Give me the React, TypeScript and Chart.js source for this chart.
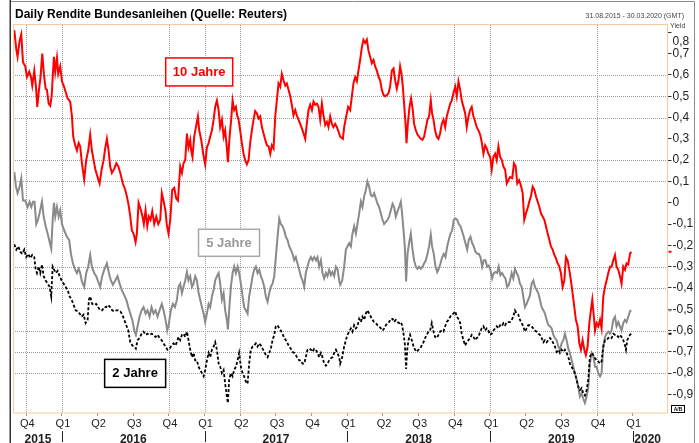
import React, { useEffect, useRef } from "react";
import { Chart, registerables } from "chart.js";

Chart.register(...registerables);

// x = decimal year, y = yield in %
const tenYear: [number, number][] = [
  [2015.666, 0.81], [2015.68, 0.72], [2015.689, 0.685], [2015.703, 0.76], [2015.715, 0.79], [2015.727, 0.66],
  [2015.743, 0.64], [2015.755, 0.59], [2015.771, 0.615], [2015.783, 0.59], [2015.792, 0.55], [2015.806, 0.62],
  [2015.818, 0.545], [2015.827, 0.45], [2015.839, 0.53], [2015.85, 0.59], [2015.862, 0.7], [2015.874, 0.6],
  [2015.886, 0.535], [2015.895, 0.53], [2015.907, 0.465], [2015.918, 0.455], [2015.928, 0.5], [2015.937, 0.61],
  [2015.944, 0.685], [2015.953, 0.615], [2015.965, 0.68], [2015.974, 0.605], [2015.988, 0.64], [2016.0, 0.57],
  [2016.012, 0.55], [2016.026, 0.52], [2016.04, 0.49], [2016.058, 0.475], [2016.07, 0.405], [2016.079, 0.31],
  [2016.093, 0.27], [2016.105, 0.245], [2016.117, 0.28], [2016.128, 0.265], [2016.14, 0.185], [2016.156, 0.11],
  [2016.17, 0.2], [2016.184, 0.245], [2016.198, 0.32], [2016.21, 0.245], [2016.222, 0.2], [2016.233, 0.16],
  [2016.25, 0.12], [2016.264, 0.09], [2016.278, 0.155], [2016.292, 0.2], [2016.303, 0.255], [2016.315, 0.3],
  [2016.327, 0.245], [2016.338, 0.17], [2016.35, 0.14], [2016.367, 0.16], [2016.381, 0.185], [2016.395, 0.17],
  [2016.409, 0.14], [2016.427, 0.09], [2016.444, 0.06], [2016.455, 0.03], [2016.467, -0.01], [2016.479, -0.065],
  [2016.49, -0.13], [2016.502, -0.145], [2016.516, -0.185], [2016.525, -0.145], [2016.537, 0.0], [2016.549, -0.025],
  [2016.563, -0.06], [2016.574, -0.1], [2016.586, -0.035], [2016.598, -0.11], [2016.609, -0.065], [2016.621, -0.08],
  [2016.633, -0.04], [2016.647, -0.1], [2016.661, -0.065], [2016.675, -0.1], [2016.689, -0.08], [2016.7, 0.045],
  [2016.712, 0.01], [2016.726, -0.04], [2016.735, -0.105], [2016.747, -0.145], [2016.759, -0.08], [2016.773, 0.06],
  [2016.787, 0.07], [2016.801, 0.02], [2016.813, 0.01], [2016.829, 0.17], [2016.841, 0.14], [2016.852, 0.185],
  [2016.864, 0.2], [2016.876, 0.325], [2016.887, 0.26], [2016.899, 0.295], [2016.906, 0.245], [2016.915, 0.215],
  [2016.927, 0.31], [2016.939, 0.355], [2016.953, 0.405], [2016.962, 0.34], [2016.976, 0.295], [2016.99, 0.23],
  [2017.004, 0.18], [2017.016, 0.26], [2017.028, 0.28], [2017.039, 0.31], [2017.051, 0.34], [2017.063, 0.39],
  [2017.074, 0.45], [2017.086, 0.48], [2017.098, 0.435], [2017.109, 0.355], [2017.121, 0.39], [2017.133, 0.31],
  [2017.144, 0.34], [2017.156, 0.255], [2017.163, 0.19], [2017.175, 0.31], [2017.186, 0.39], [2017.196, 0.48],
  [2017.207, 0.435], [2017.219, 0.45], [2017.228, 0.41], [2017.238, 0.39], [2017.249, 0.34], [2017.261, 0.28],
  [2017.273, 0.23], [2017.284, 0.2], [2017.296, 0.18], [2017.308, 0.2], [2017.319, 0.28], [2017.331, 0.34],
  [2017.343, 0.39], [2017.354, 0.43], [2017.366, 0.42], [2017.378, 0.395], [2017.39, 0.405], [2017.401, 0.355],
  [2017.413, 0.325], [2017.425, 0.295], [2017.436, 0.27], [2017.448, 0.265], [2017.46, 0.23], [2017.471, 0.27],
  [2017.483, 0.255], [2017.495, 0.405], [2017.506, 0.48], [2017.518, 0.56], [2017.53, 0.545], [2017.541, 0.605],
  [2017.553, 0.575], [2017.565, 0.55], [2017.576, 0.56], [2017.588, 0.53], [2017.6, 0.5], [2017.611, 0.46],
  [2017.623, 0.41], [2017.635, 0.435], [2017.646, 0.41], [2017.658, 0.39], [2017.67, 0.37], [2017.681, 0.35],
  [2017.693, 0.325], [2017.705, 0.3], [2017.716, 0.37], [2017.728, 0.435], [2017.74, 0.46], [2017.752, 0.435],
  [2017.763, 0.475], [2017.775, 0.46], [2017.787, 0.465], [2017.798, 0.45], [2017.81, 0.39], [2017.822, 0.465],
  [2017.833, 0.41], [2017.845, 0.365], [2017.857, 0.38], [2017.868, 0.355], [2017.88, 0.405], [2017.892, 0.37],
  [2017.903, 0.355], [2017.915, 0.37], [2017.927, 0.355], [2017.938, 0.335], [2017.95, 0.31], [2017.969, 0.3],
  [2017.978, 0.355], [2017.992, 0.405], [2018.006, 0.45], [2018.02, 0.435], [2018.032, 0.5], [2018.043, 0.56],
  [2018.055, 0.59], [2018.067, 0.57], [2018.078, 0.62], [2018.09, 0.67], [2018.102, 0.73], [2018.113, 0.765],
  [2018.125, 0.75], [2018.137, 0.765], [2018.148, 0.715], [2018.16, 0.685], [2018.172, 0.655], [2018.184, 0.67],
  [2018.195, 0.64], [2018.207, 0.62], [2018.219, 0.59], [2018.23, 0.575], [2018.242, 0.53], [2018.254, 0.505],
  [2018.265, 0.5], [2018.277, 0.505], [2018.289, 0.515], [2018.3, 0.545], [2018.312, 0.62], [2018.324, 0.63],
  [2018.335, 0.575], [2018.347, 0.535], [2018.359, 0.575], [2018.37, 0.64], [2018.38, 0.605], [2018.389, 0.545],
  [2018.398, 0.465], [2018.408, 0.37], [2018.415, 0.28], [2018.424, 0.37], [2018.436, 0.45], [2018.447, 0.49],
  [2018.459, 0.435], [2018.468, 0.37], [2018.48, 0.34], [2018.492, 0.32], [2018.503, 0.31], [2018.515, 0.3],
  [2018.527, 0.295], [2018.538, 0.31], [2018.55, 0.35], [2018.562, 0.39], [2018.573, 0.405], [2018.585, 0.48],
  [2018.594, 0.42], [2018.604, 0.39], [2018.615, 0.34], [2018.627, 0.31], [2018.639, 0.3], [2018.65, 0.325],
  [2018.662, 0.37], [2018.674, 0.39], [2018.686, 0.355], [2018.697, 0.405], [2018.709, 0.435], [2018.721, 0.465],
  [2018.732, 0.48], [2018.744, 0.515], [2018.756, 0.545], [2018.767, 0.5], [2018.779, 0.57], [2018.791, 0.53],
  [2018.802, 0.48], [2018.814, 0.45], [2018.826, 0.42], [2018.837, 0.355], [2018.849, 0.405], [2018.861, 0.435],
  [2018.872, 0.45], [2018.884, 0.405], [2018.896, 0.38], [2018.907, 0.355], [2018.919, 0.34], [2018.931, 0.32],
  [2018.942, 0.285], [2018.954, 0.23], [2018.966, 0.27], [2018.977, 0.255], [2018.989, 0.23], [2019.001, 0.215],
  [2019.012, 0.155], [2019.024, 0.215], [2019.036, 0.23], [2019.047, 0.2], [2019.059, 0.265], [2019.071, 0.215],
  [2019.083, 0.2], [2019.094, 0.17], [2019.106, 0.155], [2019.118, 0.09], [2019.14, 0.12], [2019.156, 0.115],
  [2019.168, 0.185], [2019.18, 0.17], [2019.191, 0.09], [2019.205, 0.105], [2019.217, 0.08], [2019.229, 0.045],
  [2019.24, -0.08], [2019.252, -0.05], [2019.264, -0.025], [2019.275, 0.005], [2019.287, 0.03], [2019.299, 0.075],
  [2019.311, 0.06], [2019.322, 0.03], [2019.334, 0.005], [2019.346, -0.02], [2019.357, -0.05], [2019.369, -0.065],
  [2019.381, -0.08], [2019.392, -0.11], [2019.404, -0.145], [2019.416, -0.175], [2019.427, -0.205], [2019.439, -0.22],
  [2019.451, -0.245], [2019.462, -0.26], [2019.474, -0.285], [2019.486, -0.3], [2019.497, -0.33], [2019.509, -0.395],
  [2019.521, -0.365], [2019.532, -0.255], [2019.544, -0.27], [2019.556, -0.315], [2019.567, -0.365], [2019.579, -0.425],
  [2019.591, -0.49], [2019.602, -0.55], [2019.614, -0.58], [2019.626, -0.66], [2019.637, -0.69], [2019.649, -0.645],
  [2019.661, -0.69], [2019.672, -0.715], [2019.684, -0.675], [2019.696, -0.565], [2019.707, -0.505], [2019.717, -0.455],
  [2019.726, -0.52], [2019.736, -0.6], [2019.747, -0.565], [2019.759, -0.58], [2019.771, -0.55], [2019.782, -0.59],
  [2019.794, -0.44], [2019.806, -0.395], [2019.817, -0.365], [2019.829, -0.33], [2019.841, -0.3], [2019.852, -0.3],
  [2019.864, -0.27], [2019.876, -0.245], [2019.887, -0.3], [2019.899, -0.315], [2019.911, -0.345], [2019.922, -0.38],
  [2019.934, -0.3], [2019.946, -0.315], [2019.957, -0.285], [2019.969, -0.29], [2019.981, -0.24], [2019.99, -0.23],
];

const fiveYear: [number, number][] = [
  [2015.666, 0.145], [2015.678, 0.075], [2015.689, 0.045], [2015.703, 0.075], [2015.715, 0.115], [2015.727, 0.01],
  [2015.743, 0.01], [2015.759, -0.02], [2015.773, 0.005], [2015.785, -0.02], [2015.797, 0.005], [2015.808, 0.005],
  [2015.82, -0.1], [2015.832, -0.08], [2015.843, -0.05], [2015.86, 0.005], [2015.872, -0.065], [2015.886, -0.11],
  [2015.9, -0.145], [2015.914, -0.185], [2015.925, -0.215], [2015.935, -0.08], [2015.944, 0.0], [2015.953, -0.065],
  [2015.965, -0.02], [2015.977, -0.065], [2015.988, -0.035], [2016.0, -0.1], [2016.016, -0.13], [2016.035, -0.16],
  [2016.051, -0.175], [2016.063, -0.24], [2016.077, -0.285], [2016.093, -0.315], [2016.105, -0.33], [2016.117, -0.31],
  [2016.128, -0.33], [2016.14, -0.37], [2016.156, -0.395], [2016.17, -0.33], [2016.184, -0.3], [2016.198, -0.245],
  [2016.21, -0.3], [2016.226, -0.33], [2016.24, -0.345], [2016.254, -0.37], [2016.268, -0.395], [2016.282, -0.345],
  [2016.296, -0.315], [2016.315, -0.285], [2016.329, -0.33], [2016.343, -0.365], [2016.357, -0.385], [2016.374, -0.365],
  [2016.39, -0.345], [2016.404, -0.38], [2016.42, -0.41], [2016.437, -0.435], [2016.451, -0.455], [2016.465, -0.49],
  [2016.479, -0.52], [2016.493, -0.55], [2016.507, -0.6], [2016.518, -0.62], [2016.53, -0.58], [2016.544, -0.535],
  [2016.558, -0.505], [2016.572, -0.49], [2016.586, -0.52], [2016.6, -0.505], [2016.614, -0.535], [2016.628, -0.49],
  [2016.642, -0.52], [2016.656, -0.505], [2016.67, -0.535], [2016.684, -0.505], [2016.7, -0.475], [2016.712, -0.505],
  [2016.726, -0.55], [2016.738, -0.6], [2016.75, -0.565], [2016.763, -0.505], [2016.778, -0.475], [2016.792, -0.49],
  [2016.806, -0.455], [2016.817, -0.395], [2016.829, -0.38], [2016.841, -0.425], [2016.852, -0.395], [2016.864, -0.365],
  [2016.876, -0.325], [2016.887, -0.365], [2016.899, -0.345], [2016.911, -0.395], [2016.922, -0.38], [2016.934, -0.345],
  [2016.946, -0.365], [2016.957, -0.42], [2016.969, -0.455], [2016.981, -0.49], [2016.993, -0.52], [2017.004, -0.56],
  [2017.016, -0.52], [2017.028, -0.475], [2017.039, -0.49], [2017.051, -0.44], [2017.063, -0.41], [2017.074, -0.365],
  [2017.086, -0.345], [2017.098, -0.33], [2017.109, -0.38], [2017.121, -0.455], [2017.133, -0.425], [2017.144, -0.505],
  [2017.156, -0.55], [2017.163, -0.595], [2017.172, -0.505], [2017.184, -0.395], [2017.196, -0.33], [2017.207, -0.3],
  [2017.219, -0.33], [2017.231, -0.3], [2017.242, -0.33], [2017.254, -0.38], [2017.266, -0.44], [2017.277, -0.49],
  [2017.289, -0.505], [2017.301, -0.52], [2017.312, -0.44], [2017.324, -0.395], [2017.336, -0.345], [2017.347, -0.315],
  [2017.359, -0.3], [2017.371, -0.33], [2017.383, -0.315], [2017.394, -0.345], [2017.406, -0.365], [2017.418, -0.395],
  [2017.429, -0.44], [2017.441, -0.465], [2017.453, -0.425], [2017.464, -0.395], [2017.476, -0.38], [2017.488, -0.345],
  [2017.499, -0.255], [2017.511, -0.16], [2017.523, -0.075], [2017.534, -0.1], [2017.546, -0.11], [2017.558, -0.13],
  [2017.569, -0.16], [2017.581, -0.175], [2017.593, -0.205], [2017.604, -0.22], [2017.616, -0.24], [2017.628, -0.27],
  [2017.639, -0.255], [2017.651, -0.285], [2017.663, -0.315], [2017.674, -0.345], [2017.686, -0.365], [2017.698, -0.395],
  [2017.709, -0.33], [2017.721, -0.3], [2017.733, -0.27], [2017.745, -0.255], [2017.756, -0.27], [2017.768, -0.255],
  [2017.78, -0.27], [2017.791, -0.255], [2017.803, -0.3], [2017.815, -0.27], [2017.826, -0.33], [2017.838, -0.355],
  [2017.85, -0.33], [2017.861, -0.345], [2017.873, -0.315], [2017.885, -0.34], [2017.896, -0.325], [2017.908, -0.345],
  [2017.92, -0.3], [2017.931, -0.31], [2017.943, -0.365], [2017.95, -0.385], [2017.964, -0.365], [2017.978, -0.3],
  [2017.99, -0.22], [2018.001, -0.205], [2018.013, -0.19], [2018.025, -0.205], [2018.036, -0.145], [2018.048, -0.11],
  [2018.06, -0.145], [2018.071, -0.1], [2018.083, -0.05], [2018.095, 0.005], [2018.106, -0.02], [2018.118, 0.03],
  [2018.13, 0.06], [2018.141, 0.1], [2018.153, 0.075], [2018.165, 0.035], [2018.177, 0.03], [2018.188, 0.045],
  [2018.2, 0.02], [2018.212, -0.005], [2018.223, -0.02], [2018.235, -0.05], [2018.247, -0.08], [2018.258, -0.1],
  [2018.27, -0.09], [2018.282, -0.08], [2018.293, -0.065], [2018.305, -0.035], [2018.317, -0.005], [2018.328, -0.02],
  [2018.34, -0.065], [2018.352, -0.04], [2018.363, -0.02], [2018.375, 0.005], [2018.384, -0.05], [2018.394, -0.13],
  [2018.403, -0.205], [2018.412, -0.37], [2018.422, -0.24], [2018.433, -0.19], [2018.445, -0.145], [2018.457, -0.22],
  [2018.468, -0.27], [2018.48, -0.3], [2018.492, -0.31], [2018.503, -0.3], [2018.515, -0.31], [2018.527, -0.3],
  [2018.538, -0.285], [2018.55, -0.27], [2018.562, -0.24], [2018.573, -0.205], [2018.585, -0.15], [2018.594, -0.205],
  [2018.606, -0.24], [2018.618, -0.3], [2018.63, -0.325], [2018.641, -0.31], [2018.653, -0.285], [2018.665, -0.255],
  [2018.676, -0.24], [2018.688, -0.255], [2018.7, -0.205], [2018.711, -0.175], [2018.723, -0.145], [2018.735, -0.13],
  [2018.746, -0.08], [2018.758, -0.075], [2018.77, -0.08], [2018.781, -0.1], [2018.793, -0.11], [2018.805, -0.135],
  [2018.816, -0.16], [2018.828, -0.19], [2018.84, -0.22], [2018.851, -0.175], [2018.863, -0.16], [2018.875, -0.19],
  [2018.886, -0.205], [2018.898, -0.23], [2018.91, -0.24], [2018.921, -0.24], [2018.933, -0.255], [2018.945, -0.3],
  [2018.956, -0.27], [2018.968, -0.27], [2018.98, -0.3], [2018.991, -0.295], [2019.003, -0.315], [2019.015, -0.355],
  [2019.026, -0.33], [2019.038, -0.325], [2019.05, -0.33], [2019.061, -0.3], [2019.073, -0.34], [2019.085, -0.33],
  [2019.097, -0.345], [2019.108, -0.355], [2019.12, -0.395], [2019.132, -0.385], [2019.14, -0.365], [2019.152, -0.33],
  [2019.163, -0.355], [2019.175, -0.31], [2019.187, -0.33], [2019.198, -0.345], [2019.21, -0.38], [2019.222, -0.395],
  [2019.233, -0.44], [2019.245, -0.49], [2019.257, -0.475], [2019.268, -0.455], [2019.28, -0.435], [2019.292, -0.38],
  [2019.304, -0.365], [2019.315, -0.395], [2019.327, -0.41], [2019.339, -0.425], [2019.35, -0.455], [2019.362, -0.49],
  [2019.374, -0.505], [2019.385, -0.52], [2019.397, -0.55], [2019.409, -0.575], [2019.42, -0.58], [2019.432, -0.59],
  [2019.444, -0.62], [2019.455, -0.635], [2019.467, -0.645], [2019.479, -0.675], [2019.49, -0.69], [2019.502, -0.66],
  [2019.514, -0.645], [2019.525, -0.615], [2019.537, -0.645], [2019.549, -0.685], [2019.56, -0.705], [2019.572, -0.74],
  [2019.584, -0.77], [2019.595, -0.8], [2019.607, -0.83], [2019.619, -0.865], [2019.63, -0.91], [2019.642, -0.895],
  [2019.654, -0.92], [2019.665, -0.94], [2019.677, -0.91], [2019.689, -0.865], [2019.7, -0.755], [2019.712, -0.705],
  [2019.724, -0.72], [2019.736, -0.77], [2019.747, -0.77], [2019.759, -0.8], [2019.771, -0.815], [2019.782, -0.8],
  [2019.794, -0.675], [2019.806, -0.63], [2019.817, -0.615], [2019.829, -0.605], [2019.841, -0.615], [2019.852, -0.6],
  [2019.864, -0.55], [2019.876, -0.535], [2019.887, -0.58], [2019.899, -0.56], [2019.911, -0.58], [2019.922, -0.6],
  [2019.934, -0.565], [2019.946, -0.55], [2019.957, -0.56], [2019.969, -0.535], [2019.981, -0.51], [2019.99, -0.505],
];

const twoYear: [number, number][] = [
  [2015.666, -0.195], [2015.68, -0.22], [2015.694, -0.205], [2015.708, -0.23], [2015.722, -0.24], [2015.736, -0.22],
  [2015.75, -0.255], [2015.764, -0.24], [2015.778, -0.26], [2015.792, -0.245], [2015.806, -0.255], [2015.815, -0.31],
  [2015.825, -0.33], [2015.837, -0.3], [2015.848, -0.33], [2015.86, -0.29], [2015.872, -0.345], [2015.886, -0.365],
  [2015.9, -0.38], [2015.914, -0.395], [2015.925, -0.44], [2015.935, -0.3], [2015.946, -0.315], [2015.958, -0.33],
  [2015.97, -0.32], [2015.984, -0.345], [2015.998, -0.365], [2016.012, -0.38], [2016.026, -0.395], [2016.04, -0.41],
  [2016.054, -0.44], [2016.068, -0.455], [2016.082, -0.48], [2016.096, -0.505], [2016.11, -0.51], [2016.124, -0.52],
  [2016.138, -0.535], [2016.152, -0.525], [2016.166, -0.565], [2016.18, -0.55], [2016.189, -0.455], [2016.198, -0.44],
  [2016.212, -0.475], [2016.226, -0.48], [2016.24, -0.475], [2016.254, -0.49], [2016.268, -0.505], [2016.282, -0.505],
  [2016.296, -0.49], [2016.31, -0.49], [2016.324, -0.48], [2016.338, -0.49], [2016.352, -0.505], [2016.367, -0.51],
  [2016.381, -0.505], [2016.395, -0.505], [2016.409, -0.51], [2016.423, -0.525], [2016.437, -0.55], [2016.451, -0.575],
  [2016.465, -0.6], [2016.479, -0.655], [2016.493, -0.67], [2016.507, -0.675], [2016.518, -0.685], [2016.53, -0.645],
  [2016.544, -0.635], [2016.558, -0.615], [2016.572, -0.605], [2016.586, -0.62], [2016.6, -0.615], [2016.614, -0.62],
  [2016.628, -0.615], [2016.642, -0.62], [2016.656, -0.63], [2016.67, -0.62], [2016.684, -0.635], [2016.698, -0.645],
  [2016.712, -0.66], [2016.726, -0.675], [2016.74, -0.69], [2016.754, -0.685], [2016.768, -0.67], [2016.782, -0.66],
  [2016.796, -0.67], [2016.81, -0.645], [2016.817, -0.63], [2016.829, -0.645], [2016.841, -0.62], [2016.852, -0.615],
  [2016.864, -0.63], [2016.876, -0.605], [2016.887, -0.645], [2016.899, -0.69], [2016.911, -0.725], [2016.922, -0.705],
  [2016.934, -0.74], [2016.946, -0.74], [2016.957, -0.77], [2016.969, -0.785], [2016.981, -0.8], [2016.993, -0.815],
  [2017.004, -0.785], [2017.016, -0.74], [2017.028, -0.705], [2017.039, -0.725], [2017.051, -0.69], [2017.063, -0.675],
  [2017.074, -0.655], [2017.086, -0.69], [2017.098, -0.755], [2017.109, -0.77], [2017.121, -0.8], [2017.133, -0.785],
  [2017.144, -0.85], [2017.156, -0.91], [2017.163, -0.94], [2017.172, -0.83], [2017.184, -0.8], [2017.196, -0.815],
  [2017.207, -0.785], [2017.219, -0.77], [2017.231, -0.74], [2017.242, -0.705], [2017.254, -0.77], [2017.266, -0.8],
  [2017.277, -0.815], [2017.289, -0.84], [2017.301, -0.85], [2017.312, -0.755], [2017.324, -0.69], [2017.336, -0.675],
  [2017.347, -0.67], [2017.359, -0.66], [2017.371, -0.675], [2017.383, -0.66], [2017.394, -0.67], [2017.406, -0.685],
  [2017.418, -0.7], [2017.429, -0.715], [2017.441, -0.725], [2017.453, -0.705], [2017.464, -0.685], [2017.476, -0.645],
  [2017.488, -0.62], [2017.499, -0.58], [2017.511, -0.575], [2017.523, -0.59], [2017.534, -0.6], [2017.546, -0.615],
  [2017.558, -0.635], [2017.569, -0.645], [2017.581, -0.66], [2017.593, -0.675], [2017.604, -0.685], [2017.616, -0.7],
  [2017.628, -0.705], [2017.639, -0.715], [2017.651, -0.73], [2017.663, -0.74], [2017.674, -0.74], [2017.686, -0.755],
  [2017.698, -0.755], [2017.709, -0.725], [2017.721, -0.69], [2017.733, -0.685], [2017.745, -0.69], [2017.756, -0.7],
  [2017.768, -0.685], [2017.78, -0.69], [2017.791, -0.705], [2017.803, -0.725], [2017.815, -0.705], [2017.826, -0.725],
  [2017.838, -0.755], [2017.85, -0.765], [2017.861, -0.755], [2017.873, -0.74], [2017.885, -0.73], [2017.896, -0.725],
  [2017.908, -0.705], [2017.92, -0.69], [2017.931, -0.705], [2017.943, -0.725], [2017.95, -0.755], [2017.964, -0.725],
  [2017.978, -0.675], [2017.99, -0.645], [2018.001, -0.62], [2018.013, -0.605], [2018.025, -0.59], [2018.036, -0.605],
  [2018.048, -0.575], [2018.06, -0.59], [2018.071, -0.58], [2018.083, -0.545], [2018.095, -0.56], [2018.106, -0.535],
  [2018.118, -0.55], [2018.13, -0.52], [2018.141, -0.505], [2018.153, -0.52], [2018.165, -0.535], [2018.177, -0.55],
  [2018.188, -0.56], [2018.2, -0.565], [2018.212, -0.575], [2018.223, -0.58], [2018.235, -0.59], [2018.247, -0.6],
  [2018.258, -0.59], [2018.27, -0.575], [2018.282, -0.565], [2018.293, -0.56], [2018.305, -0.545], [2018.317, -0.545],
  [2018.328, -0.56], [2018.34, -0.55], [2018.352, -0.56], [2018.363, -0.565], [2018.375, -0.56], [2018.384, -0.575],
  [2018.394, -0.615], [2018.403, -0.66], [2018.412, -0.78], [2018.42, -0.69], [2018.429, -0.645], [2018.44, -0.62],
  [2018.452, -0.645], [2018.464, -0.675], [2018.475, -0.69], [2018.487, -0.7], [2018.499, -0.69], [2018.51, -0.685],
  [2018.522, -0.67], [2018.534, -0.655], [2018.545, -0.635], [2018.557, -0.62], [2018.569, -0.605], [2018.58, -0.6],
  [2018.592, -0.565], [2018.604, -0.605], [2018.615, -0.63], [2018.627, -0.635], [2018.639, -0.62], [2018.65, -0.605],
  [2018.662, -0.6], [2018.674, -0.605], [2018.686, -0.58], [2018.697, -0.56], [2018.709, -0.55], [2018.721, -0.535],
  [2018.732, -0.525], [2018.744, -0.52], [2018.756, -0.51], [2018.767, -0.535], [2018.779, -0.545], [2018.791, -0.565],
  [2018.802, -0.615], [2018.814, -0.645], [2018.826, -0.67], [2018.837, -0.655], [2018.849, -0.645], [2018.861, -0.635],
  [2018.872, -0.62], [2018.884, -0.63], [2018.896, -0.645], [2018.907, -0.635], [2018.919, -0.63], [2018.931, -0.605],
  [2018.942, -0.59], [2018.954, -0.58], [2018.966, -0.6], [2018.977, -0.59], [2018.989, -0.6], [2019.001, -0.62],
  [2019.012, -0.615], [2019.024, -0.6], [2019.036, -0.59], [2019.047, -0.58], [2019.059, -0.59], [2019.071, -0.575],
  [2019.083, -0.58], [2019.094, -0.565], [2019.106, -0.575], [2019.118, -0.56], [2019.132, -0.56], [2019.14, -0.56],
  [2019.152, -0.55], [2019.163, -0.535], [2019.175, -0.505], [2019.187, -0.52], [2019.198, -0.525], [2019.21, -0.55],
  [2019.222, -0.565], [2019.233, -0.58], [2019.245, -0.605], [2019.257, -0.59], [2019.268, -0.575], [2019.28, -0.575],
  [2019.292, -0.58], [2019.304, -0.59], [2019.315, -0.6], [2019.327, -0.605], [2019.339, -0.615], [2019.35, -0.62],
  [2019.362, -0.635], [2019.374, -0.655], [2019.385, -0.645], [2019.397, -0.655], [2019.409, -0.645], [2019.42, -0.635],
  [2019.432, -0.645], [2019.444, -0.66], [2019.455, -0.675], [2019.467, -0.7], [2019.479, -0.69], [2019.49, -0.705],
  [2019.502, -0.69], [2019.514, -0.7], [2019.525, -0.69], [2019.537, -0.705], [2019.549, -0.725], [2019.56, -0.755],
  [2019.572, -0.77], [2019.584, -0.785], [2019.595, -0.8], [2019.607, -0.83], [2019.619, -0.865], [2019.63, -0.88],
  [2019.642, -0.87], [2019.654, -0.895], [2019.665, -0.905], [2019.677, -0.88], [2019.689, -0.83], [2019.7, -0.725],
  [2019.712, -0.705], [2019.724, -0.715], [2019.736, -0.73], [2019.747, -0.74], [2019.759, -0.745], [2019.771, -0.755],
  [2019.782, -0.745], [2019.794, -0.675], [2019.806, -0.645], [2019.817, -0.645], [2019.829, -0.635], [2019.841, -0.63],
  [2019.852, -0.635], [2019.864, -0.615], [2019.876, -0.62], [2019.887, -0.62], [2019.899, -0.63], [2019.911, -0.62],
  [2019.922, -0.63], [2019.934, -0.645], [2019.946, -0.67], [2019.953, -0.69], [2019.962, -0.645], [2019.972, -0.63],
  [2019.981, -0.62], [2019.99, -0.615],
];

const X_MIN = 2015.664; // 31.08.2015
const X_MAX = 2020.244; // 30.03.2020
const Y_MIN = -0.987;
const Y_MAX = 0.839;

const quarterTicks = [2015.75, 2016, 2016.25, 2016.5, 2016.75, 2017, 2017.25, 2017.5, 2017.75, 2018, 2018.25, 2018.5, 2018.75, 2019, 2019.25, 2019.5, 2019.75, 2020];
const quarterLabels = ["Q4", "Q1", "Q2", "Q3", "Q4", "Q1", "Q2", "Q3", "Q4", "Q1", "Q2", "Q3", "Q4", "Q1", "Q2", "Q3", "Q4", "Q1"];
const yearStarts = [2015, 2016, 2017, 2018, 2019, 2020];
const yearLabels = ["2015", "2016", "2017", "2018", "2019", "2020"];
const xGridAt = [2015.75, 2016, 2016.75, 2017, 2017.25, 2018.75, 2019, 2019.75];
const yTicks = [-0.9, -0.8, -0.7, -0.6, -0.5, -0.4, -0.3, -0.2, -0.1, 0, 0.1, 0.2, 0.3, 0.4, 0.5, 0.6, 0.7, 0.8];
const yGridAt = [0.6, 0.5, 0.4, 0.2, 0.1, -0.3, -0.4, -0.6, -0.7, -0.8];

const seriesNames = ["10 Jahre", "5 Jahre", "2 Jahre"];
const seriesColors = ["#ff0000", "#8a8a8a", "#000000"];
// label box anchors in data coordinates (year, yield)
const labelAnchors: [number, number][] = [[2016.962, 0.614], [2017.171, -0.188], [2016.513, -0.801]];

const FONT = '"Liberation Sans", Arial, Helvetica, sans-serif';

const decor = {
  id: "decor",
  beforeDraw(chart: any) {
    const { ctx, width, height, chartArea: ca, scales } = chart;
    ctx.save();
    ctx.fillStyle = "#ffffff";
    ctx.fillRect(0, 0, width, height);
    // dotted grid lines
    ctx.fillStyle = "#9e9e9e";
    xGridAt.forEach((v) => {
      const px = Math.round(scales.x.getPixelForValue(v));
      for (let yy = Math.ceil(ca.top) + 1; yy < ca.bottom; yy += 2) ctx.fillRect(px, yy, 1, 1);
    });
    yGridAt.forEach((v) => {
      const py = Math.round(scales.y.getPixelForValue(v));
      for (let xx = Math.ceil(ca.left) + 1; xx < ca.right; xx += 2) ctx.fillRect(xx, py, 1, 1);
    });
    ctx.restore();
  },
  afterDraw(chart: any) {
    const { ctx, chartArea: ca, scales } = chart;
    const xs = scales.x;
    const ys = scales.y;
    ctx.save();

    // outer frame
    ctx.strokeStyle = "#8c8c8c";
    ctx.lineWidth = 1;
    ctx.beginPath();
    ctx.moveTo(10, 1.5);
    ctx.lineTo(694.5, 1.5);
    ctx.moveTo(694.5, 1.5);
    ctx.lineTo(694.5, 443);
    ctx.stroke();
    ctx.strokeStyle = "#333";
    ctx.lineWidth = 1.5;
    ctx.beginPath();
    ctx.moveTo(10.25, 0);
    ctx.lineTo(10.25, 443);
    ctx.stroke();

    // plot frame
    ctx.strokeStyle = "#f5cc9f";
    ctx.lineWidth = 1;
    ctx.strokeRect(ca.left - 0.5, ca.top + 0.5, ca.right - ca.left + 0.5, ca.bottom - ca.top - 0.5);

    // title
    ctx.fillStyle = "#000";
    ctx.font = `bold 12px ${FONT}`;
    ctx.textAlign = "left";
    ctx.textBaseline = "alphabetic";
    ctx.fillText("Daily Rendite Bundesanleihen (Quelle: Reuters)", 15, 18);

    ctx.font = `7px ${FONT}`;
    ctx.fillStyle = "#444";
    ctx.textAlign = "right";
    ctx.fillText("31.08.2015 - 30.03.2020 (GMT)", 684, 18);
    ctx.textAlign = "left";
    ctx.fillText("Yield", 670, 28);

    // y labels
    ctx.font = `12px ${FONT}`;
    ctx.fillStyle = "#1e1e1e";
    ctx.textBaseline = "middle";
    ctx.textAlign = "left";
    yTicks.forEach((v) => {
      const py = ys.getPixelForValue(v);
      const label = Math.abs(v) < 1e-9 ? "0" : v.toFixed(1).replace(".", ",");
      ctx.fillText(label, ca.right + 5, Math.max(py, ca.top + 17.7));
    });

    // last value markers
    [tenYear, fiveYear, twoYear].forEach((s, i) => {
      const last = s[s.length - 1];
      const py = ys.getPixelForValue(last[1]);
      ctx.strokeStyle = seriesColors[i];
      ctx.lineWidth = 2;
      ctx.beginPath();
      ctx.moveTo(ca.right + 1, py);
      ctx.lineTo(ca.right + 4, py);
      ctx.stroke();
    });

    // quarter labels
    ctx.font = `11px ${FONT}`;
    ctx.fillStyle = "#1e1e1e";
    ctx.textAlign = "center";
    ctx.textBaseline = "middle";
    quarterTicks.forEach((q, i) => {
      ctx.fillText(quarterLabels[i], xs.getPixelForValue(q) + 1, 424);
    });

    // year labels and separators
    ctx.font = `bold 12px ${FONT}`;
    ctx.textBaseline = "alphabetic";
    yearStarts.forEach((yr, i) => {
      const a = xs.getPixelForValue(Math.max(yr, X_MIN));
      const b = xs.getPixelForValue(Math.min(yr + 1, X_MAX));
      const cx = i === yearStarts.length - 1 ? a + 15 : (a + b) / 2;
      ctx.fillText(yearLabels[i], cx, 442.5);
      if (yr > X_MIN) {
        ctx.strokeStyle = "#222";
        ctx.lineWidth = 1;
        ctx.beginPath();
        ctx.moveTo(Math.round(a) + 0.5, 431);
        ctx.lineTo(Math.round(a) + 0.5, 442);
        ctx.stroke();
      }
    });

    // series label boxes
    const sizes = [[67, 28], [61, 27], [61, 28]];
    const textColors = ["#ff0000", "#9a9a9a", "#000000"];
    const borderColors = ["#ff0000", "#a8a8a8", "#000000"];
    ctx.font = `bold 13px ${FONT}`;
    ctx.textAlign = "center";
    ctx.textBaseline = "middle";
    labelAnchors.forEach(([lx, ly], i) => {
      const cx = xs.getPixelForValue(lx);
      const cy = ys.getPixelForValue(ly);
      const [w, h] = sizes[i];
      ctx.fillStyle = "#fff";
      ctx.fillRect(cx - w / 2, cy - h / 2, w, h);
      ctx.strokeStyle = borderColors[i];
      ctx.lineWidth = 1.5;
      ctx.strokeRect(cx - w / 2, cy - h / 2, w, h);
      ctx.fillStyle = textColors[i];
      ctx.fillText(seriesNames[i], cx, cy + 0.5);
    });

    // small icon box bottom right
    ctx.strokeStyle = "#000";
    ctx.lineWidth = 1;
    ctx.fillStyle = "#fff";
    ctx.fillRect(671.5, 405.5, 13, 7);
    ctx.strokeRect(671.5, 405.5, 13, 7);
    ctx.fillStyle = "#000";
    ctx.font = `bold 5px ${FONT}`;
    ctx.fillText("A/B", 678, 409.3);

    ctx.restore();
  },
};

export default function App() {
  const ref = useRef<HTMLCanvasElement | null>(null);

  useEffect(() => {
    if (!ref.current) return;
    const toPts = (s: [number, number][]) => s.map(([x, y]) => ({ x, y }));
    const chart = new Chart(ref.current, {
      type: "line",
      data: {
        datasets: [
          {
            label: seriesNames[0],
            data: toPts(tenYear),
            borderColor: seriesColors[0],
            borderWidth: 2,
            pointRadius: 0,
            tension: 0,
            order: 0,
          },
          {
            label: seriesNames[2],
            data: toPts(twoYear),
            borderColor: seriesColors[2],
            borderWidth: 1.8,
            borderDash: [3, 2],
            pointRadius: 0,
            tension: 0,
            order: 1,
          },
          {
            label: seriesNames[1],
            data: toPts(fiveYear),
            borderColor: seriesColors[1],
            borderWidth: 2,
            pointRadius: 0,
            tension: 0,
            order: 2,
          },
        ],
      },
      options: {
        responsive: false,
        animation: false,
        events: [],
        layout: { padding: { left: 14, top: 24, right: 0, bottom: 0 } },
        plugins: { legend: { display: false }, tooltip: { enabled: false }, title: { display: false } },
        scales: {
          x: {
            type: "linear",
            min: X_MIN,
            max: X_MAX,
            afterBuildTicks: (scale: any) => {
              scale.ticks = quarterTicks.map((v) => ({ value: v }));
            },
            afterFit: (scale: any) => {
              scale.height = 30;
            },
            ticks: { display: false },
            border: { display: false },
            grid: {
              drawOnChartArea: false,
              color: "#999",
              tickColor: "#999",
              tickLength: 3,
              lineWidth: 1,
            },
          },
          y: {
            type: "linear",
            position: "right",
            min: Y_MIN,
            max: Y_MAX,
            afterBuildTicks: (scale: any) => {
              scale.ticks = yTicks.map((v) => ({ value: v }));
            },
            afterFit: (scale: any) => {
              scale.width = 31.5;
            },
            ticks: { display: false },
            border: { display: false },
            grid: {
              drawOnChartArea: false,
              color: "#333",
              tickColor: "#333",
              tickLength: 4,
              lineWidth: 1,
            },
          },
        },
      },
      plugins: [decor],
    });
    return () => chart.destroy();
  }, []);

  return (
    <canvas
      ref={ref}
      width={699}
      height={443}
      style={{ position: "absolute", left: 0, top: 0, width: 699, height: 443 }}
    />
  );
}
